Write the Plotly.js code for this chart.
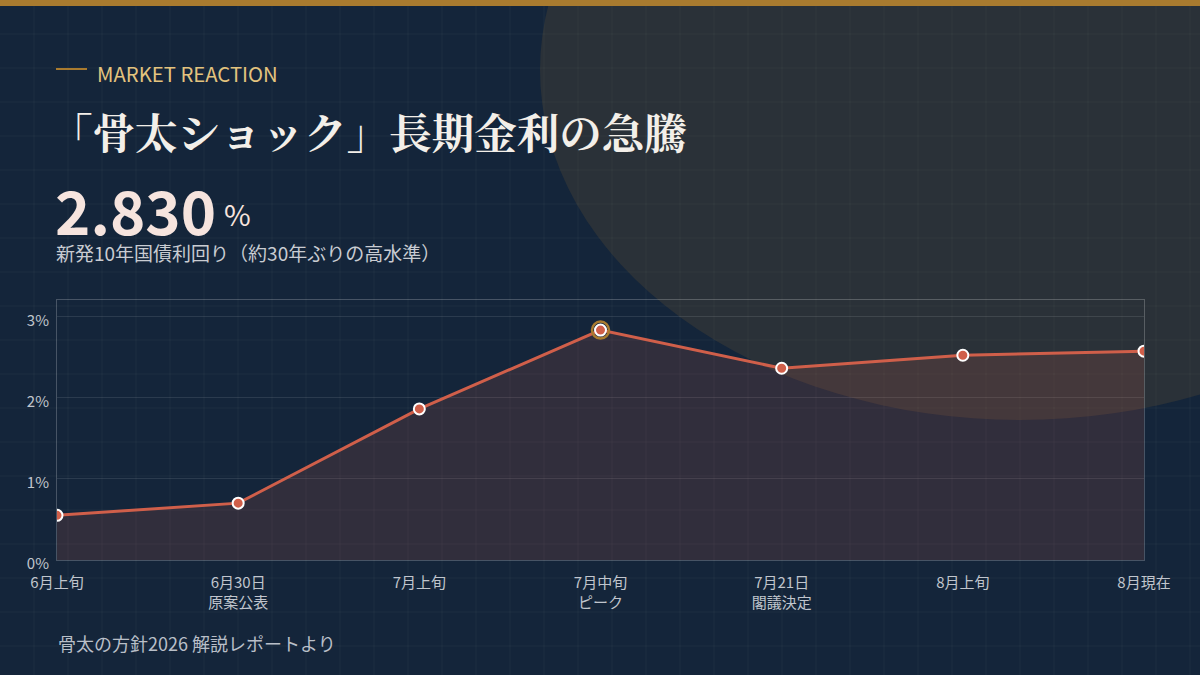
<!DOCTYPE html>
<html>
<head>
<meta charset="utf-8">
<script src="https://cdn.plot.ly/plotly-3.0.1.min.js"></script>
<style>
html,body{margin:0;padding:0;background:#14253a;}
#chart{width:1200px;height:675px;}
</style>
</head>
<body>
<div id="chart"></div>
<script>
// ---- data ----
const categories = ["6月上旬", "6月30日<br>原案公表", "7月上旬", "7月中旬<br>ピーク", "7月21日<br>閣議決定", "8月上旬", "8月現在"];
const yields = [0.55, 0.70, 1.86, 2.83, 2.36, 2.52, 2.57];
const yTickVals = [0, 1, 2, 3];
const yTickText = ["0%", "1%", "2%", "3%"];
const headlineValue = "2.830";
const kicker = "MARKET REACTION";
const titleText = "「骨太ショック」長期金利の急騰";
const subtitleText = "新発10年国債利回り（約30年ぶりの高水準）";
const footerText = "骨太の方針2026 解説レポートより";

// ---- geometry helpers (pixel -> paper) ----
const W = 1200, H = 675;
const L = 57, R = 1144, T = 300, B = 560;
const px = x => (x - L) / (R - L);
const py = y => (B - y) / (B - T);

const SANS = '"Noto Sans CJK JP", "Noto Sans", sans-serif';
const SERIF = '"Noto Serif CJK JP", "Noto Sans CJK JP", serif';
const LINE = '#d05f4a';
const GOLD = '#a97b2f';

const peakIdx = yields.indexOf(Math.max(...yields));

const shapes = [];
// background grid
for (let x = 34; x < W; x += 34) {
  shapes.push({type:'line', xref:'paper', yref:'paper', x0:px(x), x1:px(x), y0:py(0), y1:py(H), layer:'below',
    line:{color:'rgba(255,255,255,0.045)', width:1}});
}
for (let y = 34; y < H; y += 34) {
  shapes.push({type:'line', xref:'paper', yref:'paper', x0:px(0), x1:px(W), y0:py(y), y1:py(y), layer:'below',
    line:{color:'rgba(255,255,255,0.045)', width:1}});
}
// decorative ellipse
shapes.push({type:'circle', xref:'paper', yref:'paper', x0:px(540), x1:px(1500), y0:py(-280), y1:py(420), layer:'below',
  fillcolor:'rgba(168,122,46,0.15)', line:{width:0}});
// top bar
shapes.push({type:'rect', xref:'paper', yref:'paper', x0:px(0), x1:px(W), y0:py(0), y1:py(6), layer:'above',
  fillcolor:GOLD, line:{width:0}});
// kicker dash
shapes.push({type:'line', xref:'paper', yref:'paper', x0:px(56), x1:px(87), y0:py(69), y1:py(69), layer:'above',
  line:{color:GOLD, width:2}});

const annotations = [
  {text:kicker, x:px(95), y:py(73), xanchor:'left', yanchor:'middle', font:{family:SANS, size:20.3, color:'#e3c37e'}},
  {text:'<b>'+titleText+'</b>', x:px(48), y:py(130), xanchor:'left', yanchor:'middle', font:{family:SERIF, size:42.5, color:'#f3efe9'}},
  {text:'<b>'+headlineValue+'</b>', x:px(53), y:py(209), xanchor:'left', yanchor:'middle', font:{family:SANS, size:60, color:'#f6e4de'}},
  {text:'%', x:px(222), y:py(213), xanchor:'left', yanchor:'middle', font:{family:SANS, size:29, color:'#f6e4de'}},
  {text:subtitleText, x:px(54), y:py(252), xanchor:'left', yanchor:'middle', font:{family:SANS, size:19, color:'#c9ccd2'}},
  {text:footerText, x:px(56), y:py(643), xanchor:'left', yanchor:'middle', font:{family:SANS, size:18, color:'#b9bfc8'}}
].map(a => Object.assign({xref:'paper', yref:'paper', showarrow:false}, a));

const traces = [
  {x:categories, y:yields, type:'scatter', mode:'lines', fill:'tozeroy', fillcolor:'rgba(208,95,74,0.16)',
   line:{color:LINE, width:3}, hoverinfo:'skip'},
  {x:[categories[peakIdx]], y:[yields[peakIdx]], type:'scatter', mode:'markers',
   marker:{size:17, color:'rgba(0,0,0,0)', line:{color:GOLD, width:2.5}}, hoverinfo:'skip'},
  {x:categories, y:yields, type:'scatter', mode:'markers',
   marker:{size:11, color:LINE, line:{color:'#ffffff', width:2}}, hoverinfo:'skip'}
];

const layout = {
  width:W, height:H,
  margin:{l:L, r:W-R, t:T, b:H-B, pad:0},
  paper_bgcolor:'#14253a', plot_bgcolor:'rgba(0,0,0,0)',
  showlegend:false,
  font:{family:SANS, color:'#c0c5cd', size:15},
  xaxis:{type:'category', range:[0, categories.length-1], showgrid:false, zeroline:false,
    showline:true, mirror:true, linecolor:'rgba(255,255,255,0.22)', linewidth:1,
    tickfont:{family:SANS, size:15, color:'#c0c5cd'}, ticks:'', ticklabelstandoff:9, fixedrange:true},
  yaxis:{range:[0,3.2], tickvals:yTickVals, ticktext:yTickText, showgrid:true, gridcolor:'rgba(255,255,255,0.1)',
    zeroline:false, showline:true, mirror:true, linecolor:'rgba(255,255,255,0.22)', linewidth:1,
    tickfont:{family:SANS, size:15, color:'#c0c5cd'}, ticks:'', ticklabelstandoff:4, ticklabelshift:4, fixedrange:true},
  shapes:shapes,
  annotations:annotations
};

Plotly.newPlot('chart', traces, layout, {displayModeBar:false, staticPlot:true});
</script>
</body>
</html>
